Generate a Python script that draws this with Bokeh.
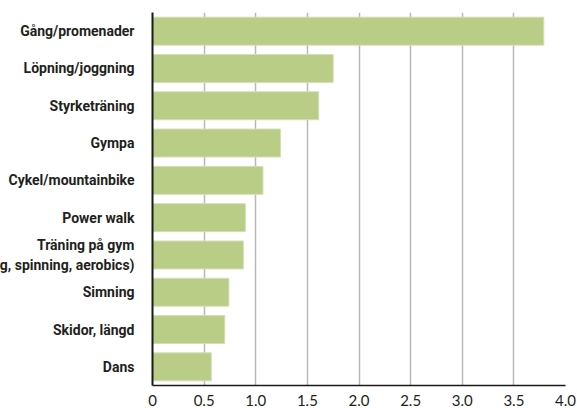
from bokeh.plotting import figure
from bokeh.models import ColumnDataSource, FactorRange, Range1d, FixedTicker
from bokeh.embed import file_html
from bokeh.resources import INLINE

categories = [
    "Gång/promenader",
    "Löpning/joggning",
    "Styrketräning",
    "Gympa",
    "Cykel/mountainbike",
    "Power walk",
    "Träning på gym\n(styrketräning, spinning, aerobics)",
    "Simning",
    "Skidor, längd",
    "Dans",
]
values = [3.79, 1.75, 1.61, 1.24, 1.07, 0.90, 0.88, 0.74, 0.70, 0.57]
tick_values = [0, 0.5, 1.0, 1.5, 2.0, 2.5, 3.0, 3.5, 4.0]
tick_labels = ["0", "0.5", "1.0", "1.5", "2.0", "2.5", "3.0", "3.5", "4.0"]

SHIFT = 148
src = ColumnDataSource(data=dict(cat=categories, value=values))

p = figure(
    width=577 + SHIFT, height=408,
    y_range=FactorRange(factors=list(reversed(categories)), range_padding=0),
    x_range=Range1d(0, 4.0),
    output_backend="svg", toolbar_location=None,
    min_border_left=152 + SHIFT, min_border_right=12, min_border_top=12, min_border_bottom=21,
)
p.styles = {"margin-left": "-%dpx" % SHIFT}
p.outline_line_color = None
p.background_fill_color = "white"
p.border_fill_color = "white"

p.hbar(y="cat", right="value", left=0, height=0.75, source=src,
       fill_color="#b9cd87", line_color="#d3dfb6", line_width=1)

p.yaxis.major_tick_line_color = None
p.yaxis.minor_tick_line_color = None
p.yaxis.axis_line_color = "#1a1a1a"
p.yaxis.axis_line_width = 2
p.yaxis.major_label_standoff = 12
p.yaxis.major_label_text_font = "Roboto"
p.yaxis.major_label_text_font_style = "bold"
p.yaxis.major_label_text_font_size = "14px"
p.yaxis.major_label_text_color = "#231f20"
p.yaxis.major_label_text_line_height = 1.2
p.ygrid.grid_line_color = None

p.xaxis.ticker = FixedTicker(ticks=tick_values)
p.xaxis.major_label_overrides = {t: l for t, l in zip(tick_values, tick_labels)}
p.xaxis.major_tick_line_color = None
p.xaxis.minor_tick_line_color = None
p.xaxis.axis_line_color = "#1a1a1a"
p.xaxis.axis_line_width = 1.5
p.xaxis.major_label_text_font = "Lato"
p.xaxis.major_label_text_font_size = "15px"
p.xaxis.major_label_text_color = "#231f20"
p.xaxis.major_label_standoff = 3

p.xgrid.ticker = FixedTicker(ticks=tick_values)
p.xgrid.grid_line_color = "#b8b8b8"
p.xgrid.grid_line_width = 1.5

html = file_html(p, INLINE)
html = html.replace("</head>", "<style>html,body{overflow:hidden;}</style></head>")
open("out.html", "w").write(html)
